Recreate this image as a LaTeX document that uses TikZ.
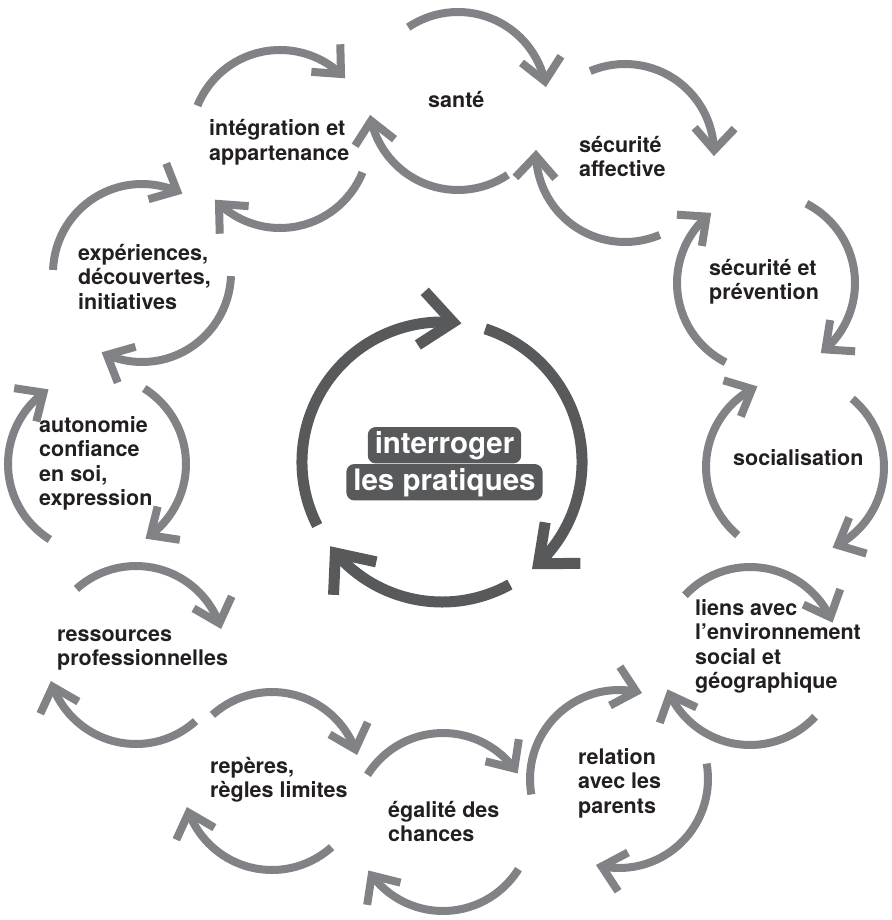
\documentclass[tikz,border=0pt]{standalone}
\usepackage{fontspec}
\setmainfont{TeX Gyre Heros}
\usetikzlibrary{arrows.meta,bending}
\definecolor{arcgray}{HTML}{818285}
\definecolor{darkg}{HTML}{58595B}
\definecolor{txt}{HTML}{231F20}
\begin{document}
\begin{tikzpicture}[x=1pt,y=1pt,
  smallarc/.style={draw=arcgray, line width=8pt, -{Straight Barb[sharp,length=22pt,width=40pt]}},
  bigarc/.style={draw=darkg, line width=11pt, -{Straight Barb[sharp,length=32pt,width=54pt]}},
  lbl/.style={anchor=base west, align=left, inner sep=0pt, font=\fontsize{21.5}{24.5}\selectfont\bfseries, text=txt},
  ctr/.style={fill=darkg, text=white, rounded corners=8pt, inner xsep=7pt, inner ysep=4pt, anchor=base, font=\fontsize{29.5}{35}\selectfont\bfseries}]
\useasboundingbox (0,0) rectangle (891,-920);
\foreach \n/\cx/\cy/\s in {c1/458/101/124, c2/625/153/113, c3/766/283/63, c4/795/467/50,
  c5/750/656/137, c6/619/779/10, c7/443/822/148, c8/272/781/132, c9/136/655/132,
  c10/97/464/58, c11/142/273/178, c12/280/139/158} {
  \coordinate (\n) at (\cx,-\cy);
  \draw[smallarc] (\n) ++(\s:89) arc[start angle=\s, end angle=\s-115, radius=89];
  \draw[smallarc] (\n) ++(\s+180:89) arc[start angle=\s+180, end angle=\s+65, radius=89];
}
% anchor = baseline of the last line
\node[lbl] (t1) at (428,-108) {santé};
\node[lbl] (t2) at (579,-176.5) {sécurité\\affective};
\node[lbl] (t3) at (709,-299.5) {sécurité et\\prévention};
\node[lbl] (t4) at (733,-465) {socialisation};
\node[lbl] (t5) at (695,-688.5) {liens avec\\l’environnement\\social et\\géographique};
\node[lbl] (t6) at (578,-813) {relation\\avec les\\parents};
\node[lbl] (t7) at (388,-841.5) {égalité des\\chances};
\node[lbl] (t8) at (210,-797.5) {repères,\\règles limites};
\node[lbl] (t9) at (57,-665.5) {ressources\\professionnelles};
\node[lbl] (t10) at (39,-505.5) {autonomie\\confiance\\en soi,\\expression};
\node[lbl] (t11) at (78,-309) {expériences,\\découvertes,\\initiatives};
\node[lbl] (t12) at (209,-160.5) {intégration et\\appartenance};
\coordinate (cc) at (442,-462);
\draw[bigarc] (cc) ++(207:140) arc[start angle=207,end angle=82,radius=140];
\draw[bigarc] (cc) ++(72:140) arc[start angle=72,end angle=-50,radius=140];
\draw[bigarc] (cc) ++(-61:140) arc[start angle=-61,end angle=-143,radius=140];
\node[ctr] (q1) at (444.5,-453) {interroger};
\node[ctr] (q2) at (444.5,-490) {les pratiques};
\end{tikzpicture}
\end{document}
